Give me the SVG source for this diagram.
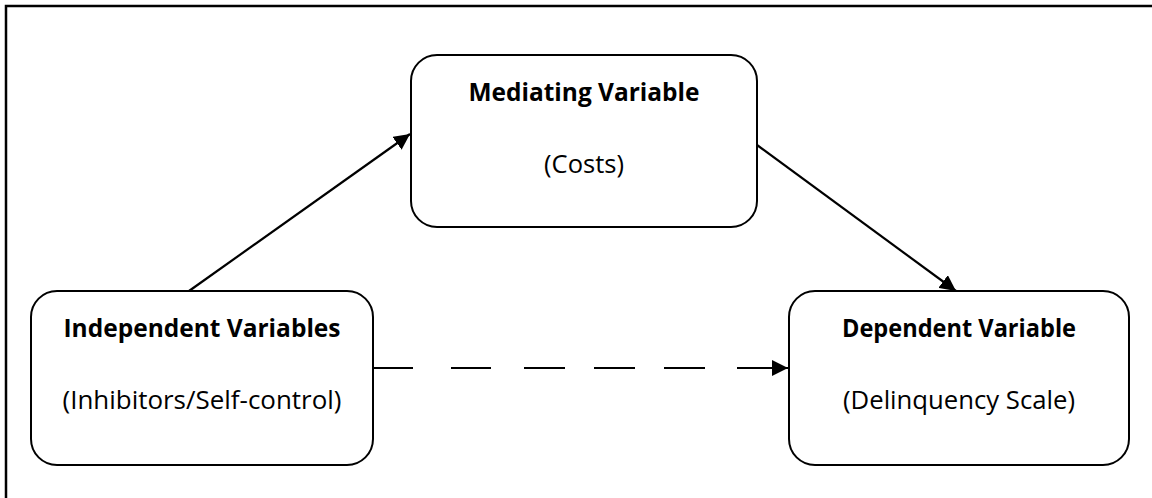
<svg xmlns="http://www.w3.org/2000/svg" width="1152" height="498" viewBox="0 0 1152 498">
<style>
.box{fill:#fff;stroke:#000;stroke-width:2}
.t{font-family:"Open Sans","Liberation Sans",sans-serif;font-size:25px;fill:#000;text-anchor:middle}
.b{font-weight:bold}
.c{fill:none;stroke:#000;stroke-width:2.2}
</style>
<defs>
<marker id="ah" markerUnits="userSpaceOnUse" markerWidth="16" markerHeight="16" viewBox="0 0 14 14" refX="14" refY="7" orient="auto">
<path d="M0,0 L14,7 L0,14 Z" fill="#000"/>
</marker>
</defs>
<path d="M6,498 V6 H1152" fill="none" stroke="#000" stroke-width="2.5"/>
<g id="independent">
<rect class="box" x="31" y="291" width="342" height="174" rx="26" ry="26"/>
<text class="t b" x="202" y="337" textLength="277" lengthAdjust="spacingAndGlyphs">Independent Variables</text>
<text class="t" x="202" y="409" textLength="279" lengthAdjust="spacingAndGlyphs">(Inhibitors/Self-control)</text>
</g>
<g id="mediating">
<rect class="box" x="411" y="55" width="346" height="172" rx="26" ry="26"/>
<text class="t b" x="584" y="101" textLength="231" lengthAdjust="spacingAndGlyphs">Mediating Variable</text>
<text class="t" x="584" y="173" textLength="80" lengthAdjust="spacingAndGlyphs">(Costs)</text>
</g>
<g id="dependent">
<rect class="box" x="789" y="291" width="340" height="174" rx="26" ry="26"/>
<text class="t b" x="959" y="337" textLength="234" lengthAdjust="spacingAndGlyphs">Dependent Variable</text>
<text class="t" x="959" y="409" textLength="232" lengthAdjust="spacingAndGlyphs">(Delinquency Scale)</text>
</g>
<g id="connectors">
<line class="c" x1="189" y1="291" x2="410" y2="134" marker-end="url(#ah)"/>
<line class="c" x1="757" y1="145" x2="956" y2="291" marker-end="url(#ah)"/>
<path class="c" d="M373,368 H413 M451,368 H491 M524,368 H565 M594,368 H635 M664,368 H705 M737,368 H788" marker-end="url(#ah)"/>
</g>
</svg>
